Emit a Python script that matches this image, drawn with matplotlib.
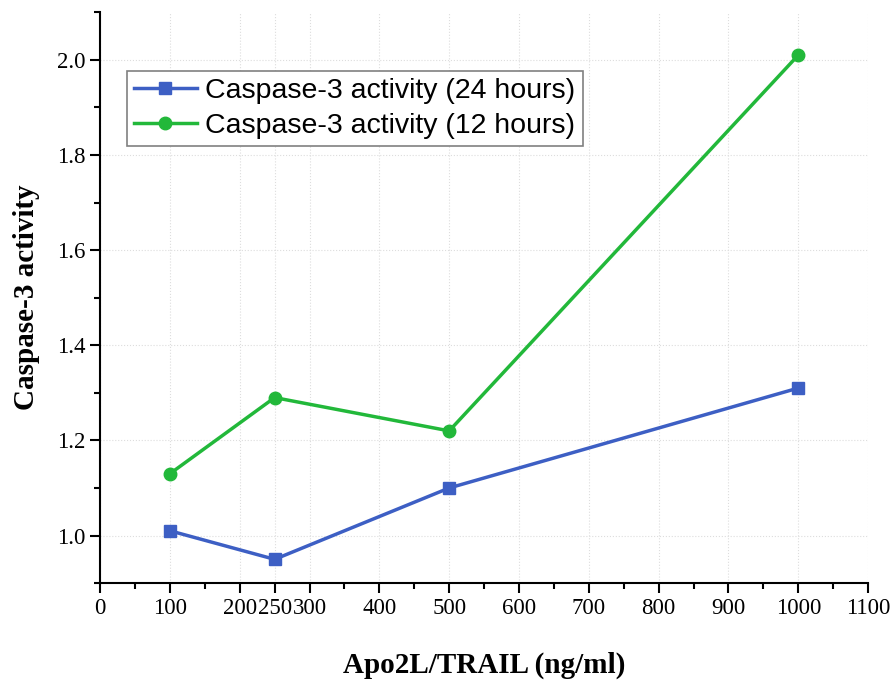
import numpy as np
import matplotlib.pyplot as plt
from matplotlib.ticker import MultipleLocator, FixedLocator

dose = [100, 250, 500, 1000]
act_24h = [1.01, 0.95, 1.10, 1.31]
act_12h = [1.13, 1.29, 1.22, 2.01]
x_ticks = [0, 100, 200, 250, 300, 400, 500, 600, 700, 800, 900, 1000, 1100]

plt.rcParams['font.family'] = 'Liberation Serif'

fig = plt.figure(figsize=(8.94, 6.82), dpi=100)
ax = fig.add_axes([0.112, 0.145, 0.859, 0.837])

ax.plot(dose, act_24h, color='#3d5fc4', lw=2.5, marker='s', ms=9,
        label='Caspase-3 activity (24 hours)')
ax.plot(dose, act_12h, color='#22b83a', lw=2.5, marker='o', ms=9,
        label='Caspase-3 activity (12 hours)')

ax.set_xlim(0, 1100)
ax.set_ylim(0.9, 2.1)
ax.xaxis.set_major_locator(FixedLocator(x_ticks))
ax.xaxis.set_minor_locator(MultipleLocator(50))
ax.yaxis.set_major_locator(FixedLocator([1.0, 1.2, 1.4, 1.6, 1.8, 2.0]))
ax.yaxis.set_minor_locator(MultipleLocator(0.1))
ax.tick_params(which='major', direction='out', length=7, width=1.5, labelsize=16.5)
ax.tick_params(which='minor', direction='out', length=4, width=1.5)

for s in ['top', 'right']:
    ax.spines[s].set_visible(False)
for s in ['left', 'bottom']:
    ax.spines[s].set_linewidth(1.5)

ax.grid(True, which='major', color='#dddddd', ls=':', lw=0.8)
ax.set_axisbelow(True)

ax.set_xlabel('Apo2L/TRAIL (ng/ml)', fontsize=21, fontweight='bold', labelpad=24)
ax.set_ylabel('Caspase-3 activity', fontsize=21, fontweight='bold', labelpad=12)

leg = ax.legend(loc='upper left', bbox_to_anchor=(0.035, 0.897), fancybox=False,
                edgecolor='#808080', framealpha=1,
                prop={'family': 'Liberation Sans', 'size': 20.5},
                handlelength=2.2, borderpad=0.25, labelspacing=0.32, handletextpad=0.3,
                borderaxespad=0)
leg.get_frame().set_linewidth(1.2)

fig.savefig('out.png', dpi=100)
